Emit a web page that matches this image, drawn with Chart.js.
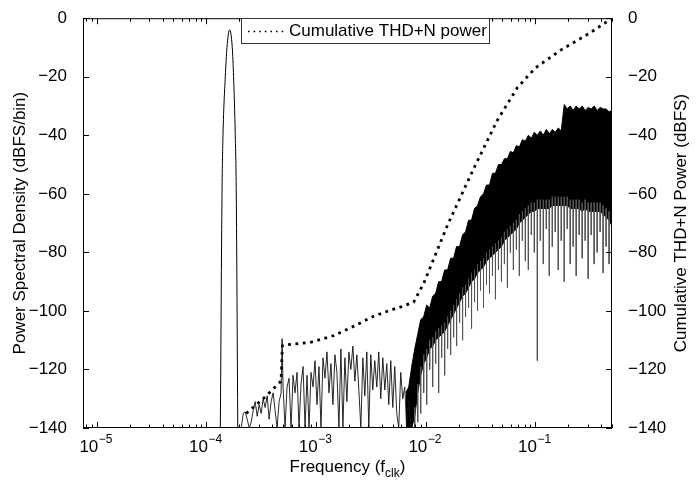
<!DOCTYPE html>
<html>
<head>
<meta charset="utf-8">
<script src="https://cdn.jsdelivr.net/npm/chart.js@4.4.0/dist/chart.umd.min.js"></script>
<style>
  body { margin: 0; background: #fff; }
  #wrap { width: 700px; height: 489px; }
</style>
</head>
<body>
<div id="wrap"><canvas id="psdChart"></canvas></div>
<script>
// axis ranges
const freqMin = 7.5e-6;
const freqMax = 0.5;
const decadeTicks = [1e-5, 1e-4, 1e-3, 1e-2, 1e-1];
const dbTicks = [-140, -120, -100, -80, -60, -40, -20, 0];

// test tone
const toneFreq = [1.341e-4, 1.389e-4, 1.418e-4, 1.488e-4, 1.542e-4, 1.628e-4, 1.723e-4, 1.771e-4, 1.835e-4, 1.874e-4, 1.934e-4];
const toneDb   = [-140, -60, -40, -20, -10, -4, -10, -20, -40, -60, -140];

// noise floor below 1e-2
const floorFreq = [
  2.080e-4, 2.169e-4, 2.261e-4, 2.358e-4, 2.459e-4, 2.564e-4, 2.673e-4, 2.788e-4, 2.907e-4, 3.031e-4,
  3.160e-4, 3.295e-4, 3.436e-4, 3.583e-4, 3.736e-4, 3.895e-4, 4.062e-4, 4.235e-4, 4.416e-4, 4.605e-4,
  4.801e-4, 4.903e-4, 5.006e-4, 5.220e-4, 5.443e-4, 5.676e-4, 5.918e-4, 6.171e-4, 6.435e-4, 6.710e-4,
  6.996e-4, 7.295e-4, 7.617e-4, 7.942e-4, 8.281e-4, 8.635e-4, 9.004e-4, 9.389e-4, 9.790e-4, 1.0208e-3,
  1.0644e-3, 1.1099e-3, 1.1573e-3, 1.2068e-3, 1.2583e-3, 1.3121e-3, 1.3681e-3, 1.4266e-3, 1.4875e-3, 1.5511e-3,
  1.6173e-3, 1.6864e-3, 1.7585e-3, 1.8336e-3, 1.9119e-3, 1.9936e-3, 2.0787e-3, 2.1675e-3, 2.2601e-3, 2.3567e-3,
  2.4574e-3, 2.5624e-3, 2.672e-3, 2.786e-3, 2.905e-3, 3.029e-3, 3.158e-3, 3.293e-3, 3.434e-3, 3.581e-3,
  3.734e-3, 3.893e-3, 4.064e-3, 4.238e-3, 4.419e-3, 4.608e-3, 4.805e-3, 5.010e-3, 5.224e-3, 5.447e-3,
  5.680e-3, 5.922e-3, 6.178e-3, 6.442e-3, 6.717e-3, 7.004e-3, 7.303e-3, 7.615e-3
];
const floorDb = [
  -140, -135, -134.5, -137, -140, -138, -134, -131, -136, -132,
  -135, -130, -133, -129, -137, -131, -128, -134, -140, -131,
  -128, -109.5, -126, -140, -126, -123, -140, -122, -128, -121,
  -140, -125, -119, -140, -122, -140, -121, -126, -117, -132,
  -119, -140, -116, -123, -114, -128, -118, -132, -115, -121,
  -140, -113, -140, -116, -131, -114, -120, -112, -124, -115,
  -127, -140, -116, -129, -114, -140, -115, -127, -117, -126,
  -114, -130, -116, -127, -118, -132, -117, -133, -119, -135,
  -140, -121, -130, -126, -140, -130, -140, -140
];

// dense noise band above ~7e-3: top edge, solid bottom edge, and deepest dips
const bandFreq = [
  6.579e-3, 7.005e-3, 7.459e-3, 7.943e-3, 8.458e-3, 9.006e-3, 9.590e-3, 1.0211e-2, 1.0873e-2, 1.1578e-2,
  1.2328e-2, 1.3127e-2, 1.3978e-2, 1.4884e-2, 1.5849e-2, 1.6876e-2, 1.7970e-2, 1.9134e-2, 2.0374e-2, 2.1694e-2,
  2.3100e-2, 2.4597e-2, 2.6191e-2, 2.7888e-2, 2.9695e-2, 3.1620e-2, 3.3669e-2, 3.5851e-2, 3.8174e-2, 4.0648e-2,
  4.3282e-2, 4.6087e-2, 4.9073e-2, 5.2253e-2, 5.5640e-2, 5.9245e-2, 6.3085e-2, 6.7173e-2, 7.1526e-2, 7.6161e-2,
  8.1097e-2, 8.6352e-2, 9.1948e-2, 9.7907e-2, 0.10425, 0.11101, 0.11820, 0.12586, 0.13402, 0.14270,
  0.15195, 0.16180, 0.17228, 0.18345, 0.19534, 0.20799, 0.22147, 0.23582, 0.25111, 0.26738,
  0.28471, 0.30316, 0.32280, 0.34372, 0.36600, 0.38971, 0.41497, 0.44186, 0.47050, 0.5
];
const bandTop = [
  -128, -126, -119, -113, -108, -103, -102, -98, -99, -95,
  -94, -90, -90, -86, -86, -82, -82, -78, -78, -74,
  -73, -69, -69, -65, -64, -61, -60, -57, -57, -53,
  -53, -50, -50, -48, -48, -45.5, -46, -43.5, -44, -41.5,
  -42, -40, -41, -39, -40, -38.5, -40, -38, -39.5, -38,
  -39, -37.5, -38.5, -29.5, -31, -30, -31.5, -30, -31, -30,
  -31.5, -30.5, -31, -30, -31.5, -30.5, -31, -31, -32, -31.5
];
const bandBottom = [
  -140, -140, -140, -136, -128, -122, -118, -116, -113, -112,
  -110, -109, -108, -107, -105, -103, -101, -99, -97, -95,
  -94, -92, -90, -89, -87, -86, -85, -83, -82, -81,
  -80, -79, -78, -76, -75, -74, -73, -72, -70, -69,
  -68, -67, -66, -66, -65, -65, -65, -65, -65, -64,
  -64, -64, -64, -64, -64, -65, -65, -65, -65, -66,
  -65, -66, -66, -66, -66, -66, -67, -68, -69, -71
];
const bandDip = [
  null, null, null, -140, -138, -135, -128, -132, -120, -126,
  -118, -128, -116, -122, -113, -115, -109, -112, -104, -110,
  -102, -99, -106, -97, -100, -93, -99, -91, -94, -88,
  -96, -86, -90, -84, -92, -80, -86, -79, -88, -76,
  -83, -86, -74, -80, -117, -76, -84, -72, -88, -78,
  -73, -86, -76, -90, -72, -84, -78, -88, -74, -82,
  -76, -89, -74, -84, -80, -73, -87, -78, -84, -76
];

// cumulative THD+N power (right axis)
const cumFreq = [2.31e-4, 3.295e-4, 4.52e-4, 4.80e-4, 4.93e-4, 5.0e-4, 9.0e-4, 1.46e-3, 2.08e-3, 3.37e-3,
  4.81e-3, 6.31e-3, 7.78e-3, 9.59e-3, 1.585e-2, 2.73e-2, 4.51e-2, 6.86e-2, 0.1, 0.169, 0.316, 0.5];
const cumDb = [-135, -130, -125, -124, -112, -111.7, -110.7, -108.4, -105.7, -101.8,
  -99.7, -98.3, -97, -90.6, -70.6, -51.5, -34.8, -23.7, -17, -11, -5, 0];

const FONT = '"Liberation Sans", Arial, Helvetica, sans-serif';

function pts(xs, ys) {
  return xs.map((x, i) => ({ x: x, y: ys[i] }));
}

// each dip is a vertical stroke from inside the band down to its depth
const dipPts = bandFreq.flatMap((f, i) => bandDip[i] === null ? [] : [
  { x: f, y: bandBottom[i] + 3 }, { x: f, y: bandDip[i] }, { x: f, y: null }
]);

const minus = s => String(s).replace('-', '\u2212');

// frame, inward ticks, labels and legend drawn on top
const framePlugin = {
  id: 'frame',
  afterDatasetsDraw(chart) {
    const ctx = chart.ctx;
    const a = chart.chartArea;
    const sx = chart.scales.x;
    const sy = chart.scales.y;
    ctx.save();
    ctx.strokeStyle = '#000';
    ctx.lineWidth = 1;
    ctx.strokeRect(a.left + 0.5, a.top + 0.5, a.right - a.left - 1, a.bottom - a.top - 1);

    ctx.beginPath();
    for (let d = -6; d <= 0; d++) {
      for (let m = 1; m <= 9; m++) {
        const v = m * Math.pow(10, d);
        if (v < freqMin || v > freqMax) continue;
        const px = Math.round(sx.getPixelForValue(v)) + 0.5;
        const len = m === 1 ? 6 : 3.5;
        ctx.moveTo(px, a.bottom); ctx.lineTo(px, a.bottom - len);
        ctx.moveTo(px, a.top); ctx.lineTo(px, a.top + len);
      }
    }
    dbTicks.forEach(v => {
      const py = Math.round(sy.getPixelForValue(v)) + 0.5;
      ctx.moveTo(a.left, py); ctx.lineTo(a.left + 6, py);
      ctx.moveTo(a.right, py); ctx.lineTo(a.right - 6, py);
    });
    ctx.stroke();

    // x tick labels 10^n
    ctx.fillStyle = '#000';
    ctx.textBaseline = 'alphabetic';
    ctx.textAlign = 'left';
    decadeTicks.forEach(v => {
      const px = sx.getPixelForValue(v);
      const exp = minus(Math.round(Math.log10(v)));
      ctx.font = '17px ' + FONT;
      const wBase = ctx.measureText('10').width;
      ctx.font = '12px ' + FONT;
      const wExp = ctx.measureText(exp).width;
      const x0 = px - (wBase + wExp) / 2 - 1;
      ctx.font = '17px ' + FONT;
      ctx.fillText('10', x0, 452);
      ctx.font = '12px ' + FONT;
      ctx.fillText(exp, x0 + wBase + 0.5, 443);
    });

    // x title with subscript
    ctx.font = '17px ' + FONT;
    const t1 = 'Frequency (f';
    const t3 = ')';
    const w1 = ctx.measureText(t1).width;
    const w3 = ctx.measureText(t3).width;
    ctx.font = '12px ' + FONT;
    const w2 = ctx.measureText('clk').width;
    const cx = (a.left + a.right) / 2;
    const tx = cx - (w1 + w2 + w3) / 2;
    ctx.font = '17px ' + FONT;
    ctx.fillText(t1, tx, 472);
    ctx.font = '12px ' + FONT;
    ctx.fillText('clk', tx + w1, 477);
    ctx.font = '17px ' + FONT;
    ctx.fillText(t3, tx + w1 + w2, 472);

    // y titles
    const cy = (a.top + a.bottom) / 2;
    ctx.textAlign = 'center';
    ctx.textBaseline = 'middle';
    ctx.save();
    ctx.translate(20, cy);
    ctx.rotate(-Math.PI / 2);
    ctx.fillText('Power Spectral Density (dBFS/bin)', 0, 0);
    ctx.restore();
    ctx.save();
    ctx.translate(681, cy);
    ctx.rotate(-Math.PI / 2);
    ctx.fillText('Cumulative THD+N Power (dBFS)', 0, 0);
    ctx.restore();

    // legend
    ctx.fillStyle = '#fff';
    ctx.fillRect(241, 18, 248, 25);
    ctx.strokeStyle = '#333';
    ctx.strokeRect(241.5, 18.5, 248, 25);
    ctx.strokeStyle = '#000';
    ctx.lineWidth = 1.6;
    ctx.setLineDash([1.6, 4]);
    ctx.beginPath();
    ctx.moveTo(248, 31.5); ctx.lineTo(284, 31.5);
    ctx.stroke();
    ctx.setLineDash([]);
    ctx.fillStyle = '#000';
    ctx.textAlign = 'left';
    ctx.textBaseline = 'middle';
    ctx.font = '17px ' + FONT;
    ctx.fillText('Cumulative THD+N power', 289, 31);
    ctx.restore();
  }
};

const ctx = document.getElementById('psdChart').getContext('2d');
new Chart(ctx, {
  type: 'line',
  data: {
    datasets: [
      { data: pts(toneFreq, toneDb), borderColor: '#000', borderWidth: 1, pointRadius: 0, yAxisID: 'y',
        cubicInterpolationMode: 'monotone' },
      { data: pts(floorFreq, floorDb), borderColor: '#111', borderWidth: 0.9, pointRadius: 0, yAxisID: 'y' },
      { data: dipPts, borderColor: '#555', borderWidth: 1, pointRadius: 0, spanGaps: false, yAxisID: 'y' },
      { data: pts(bandFreq, bandTop), borderColor: '#000', borderWidth: 1, pointRadius: 0, yAxisID: 'y',
        fill: '+1', backgroundColor: '#000' },
      { data: pts(bandFreq, bandBottom), borderColor: '#000', borderWidth: 1, pointRadius: 0, yAxisID: 'y' },
      { data: pts(cumFreq, cumDb), borderColor: '#000', borderWidth: 2.8, borderDash: [2.8, 4.6],
        pointRadius: 0, yAxisID: 'y2' }
    ]
  },
  options: {
    responsive: true,
    maintainAspectRatio: false,
    animation: false,
    devicePixelRatio: 1,
    layout: { padding: { top: 9, left: 0, right: 0, bottom: 0 }, autoPadding: false },
    plugins: { legend: { display: false }, tooltip: { enabled: false } },
    scales: {
      x: {
        type: 'logarithmic',
        min: freqMin,
        max: freqMax,
        grid: { display: false },
        border: { display: false },
        ticks: { display: false },
        afterFit(s) { s.height = 61; }
      },
      y: {
        position: 'left',
        min: -140,
        max: 0,
        grid: { display: false },
        border: { display: false },
        ticks: { stepSize: 20, padding: 8, color: '#000', font: { family: FONT, size: 17 },
          callback: v => minus(v) },
        afterFit(s) { s.width = 83; }
      },
      y2: {
        position: 'right',
        min: -140,
        max: 0,
        grid: { display: false },
        border: { display: false },
        ticks: { stepSize: 20, padding: 8, color: '#000', font: { family: FONT, size: 17 },
          callback: v => minus(v) },
        afterFit(s) { s.width = 88; }
      }
    }
  },
  plugins: [framePlugin]
});
</script>
</body>
</html>
